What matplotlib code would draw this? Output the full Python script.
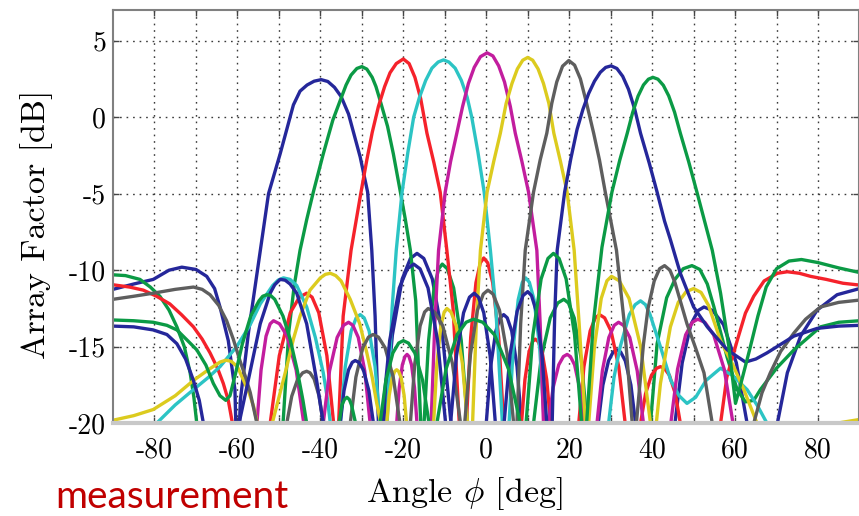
import numpy as np
import matplotlib
matplotlib.use("Agg")
import matplotlib.pyplot as plt


BEAM_M40 = [
    (-90, -11.25), (-85, -10.9), (-80.3, -10.6), (-76.5, -10.0), (-73.4, -9.8),
    (-70, -9.95), (-67.4, -10.4), (-65.5, -11.2), (-64.2, -12.4), (-62.2, -14.6),
    (-60.6, -17.8), (-60.0, -24), (-59.3, -18.5), (-57.3, -14), (-54.1, -8.0),
    (-52.5, -5.0), (-49.7, -2.4), (-48.1, -0.8), (-46.5, 0.8), (-44.9, 1.7),
    (-43.2, 2.1), (-41.5, 2.35), (-39.8, 2.45), (-38.2, 2.33), (-36.6, 1.95),
    (-35.0, 1.35), (-33.2, 0.2), (-31.8, -1.2), (-30.4, -2.6), (-28.6, -4.9),
    (-27.6, -8.7), (-26.8, -13), (-26.0, -20), (-25.4, -27),
    (-24.6, -20), (-22.63, -14.23), (-20.26, -10.57), (-18.28, -9.23), (-16.7, -8.9),
    (-15.06, -9.23), (-13.01, -10.57), (-10.55, -14.23), (-8.5, -20), (-7.8, -27),
    (-4, -30), (-0.7, -27),
    (0, -20), (1.05, -16.31), (2.31, -13.97), (3.36, -13.11), (4.2, -12.9),
    (5.06, -13.11), (6.14, -13.97), (7.43, -16.31), (8.5, -20), (9.2, -27),
    (18, -30), (26.3, -27),
    (27, -20), (28.13, -17.5), (29.48, -15.92), (30.6, -15.34), (31.5, -15.2),
    (32.4, -15.34), (33.53, -15.92), (34.88, -17.5), (36, -20), (36.7, -27),
    (41, -30), (44.8, -27),
    (45.5, -20), (47.25, -16.05), (49.35, -13.54), (51.1, -12.63), (52.5, -12.4),
    (54.58, -12.63), (57.18, -13.54), (60.3, -16.05), (62.9, -20), (64, -28),
    (69.3, -28), (70.2, -20), (72.6, -16.7), (75.8, -14.3), (79.8, -12.6),
    (84.6, -11.6), (90, -11.2),
]

BEAM_M30 = [
    (-90, -10.3), (-87, -10.35), (-83.5, -10.6), (-81, -11.1), (-78.7, -11.7),
    (-76.5, -12.6), (-74.6, -13.7), (-72.8, -15.0), (-71.4, -16.7), (-70.5, -18.3),
    (-69.8, -20), (-69.2, -27), (-60, -30), (-49.6, -27), (-49.0, -20),
    (-47.6, -14), (-46.3, -11), (-44.9, -8.7), (-43.3, -6.7), (-41.7, -4.9),
    (-39.3, -2.4), (-37, -0.2), (-35.2, 1.1), (-33.8, 2.1), (-32.6, 2.75),
    (-31.2, 3.18), (-30.0, 3.3), (-28.8, 3.14), (-27.5, 2.6), (-26.6, 2.0),
    (-25.6, 1.1), (-23.8, -0.6), (-22.4, -2.4), (-20.7, -4.9), (-19.5, -6.7),
    (-18.3, -8.7), (-17, -12), (-15.8, -20), (-15.4, -27),
    (-15.0, -20), (-13.9, -14.59), (-12.58, -11.16), (-11.48, -9.91), (-10.6, -9.6),
    (-9.38, -9.91), (-7.86, -11.16), (-6.03, -14.59), (-4.5, -20), (-3.8, -27),
    (3.5, -30), (10.7, -27),
    (11.4, -20), (13.23, -15.79), (15.42, -13.12), (17.24, -12.14), (18.7, -11.9),
    (19.82, -12.14), (21.22, -13.12), (22.9, -15.79), (24.3, -20), (25, -27),
    (32, -30), (38.8, -27),
    (39.6, -20), (41.2, -14.8), (43.5, -11.8), (45.5, -10.6), (47.5, -9.9),
    (49.6, -9.7), (51.5, -9.95), (53.3, -10.9), (54.9, -12.4), (58.1, -15.7),
    (60.5, -17.8), (62.5, -18.6), (64.5, -18.5), (66.1, -17.8), (70, -16.4),
    (74.2, -15.2), (80.6, -13.7), (85, -13.4), (90, -13.3),
]

BEAM_M20 = [
    (-90, -10.95), (-86, -11.1), (-82.7, -11.3), (-79.5, -11.7), (-76.3, -12.2),
    (-73.5, -12.9), (-70.6, -13.7), (-68.5, -14.5), (-66.6, -15.4), (-64.8, -16.4),
    (-63.4, -17.4), (-62.2, -18.5), (-61.2, -20), (-60.6, -27), (-56.5, -30),
    (-52.8, -27),
    (-52.1, -20), (-49.9, -15.58), (-47.26, -12.78), (-45.06, -11.76), (-43.3, -11.5),
    (-42.0, -11.76), (-40.38, -12.78), (-38.43, -15.58), (-36.8, -20), (-36.2, -27),
    (-35.6, -20), (-34.5, -13), (-32.6, -8.7), (-30.2, -4.9), (-28.8, -2.8),
    (-27.5, -1.0), (-26, 0.7), (-24.5, 2.0), (-23.2, 2.9), (-21.7, 3.5),
    (-20, 3.8), (-18.6, 3.5), (-17.2, 2.6), (-15.8, 1.2), (-14.3, -1.05),
    (-12.6, -3.0), (-11.1, -4.9), (-9.5, -8.7), (-8.0, -12.5), (-6.5, -20),
    (-5.6, -27),
    (-4.8, -20), (-3.75, -14.38), (-2.49, -10.82), (-1.44, -9.52), (-0.6, -9.2),
    (0.36, -9.52), (1.56, -10.82), (3.0, -14.38), (4.2, -20), (4.8, -27),
    (7.8, -27),
    (8.5, -20), (9.33, -17.14), (10.32, -15.33), (11.14, -14.67), (11.8, -14.5),
    (12.54, -14.67), (13.47, -15.33), (14.58, -17.14), (15.5, -20), (16.2, -27),
    (19, -30), (21.6, -27),
    (22.3, -20), (23.55, -16.31), (25.05, -13.97), (26.3, -13.11), (27.3, -12.9),
    (28.54, -13.11), (30.09, -13.97), (31.95, -16.31), (33.5, -20), (35.3, -28),
    (36.5, -27),
    (37.2, -20), (38.4, -18.08), (39.84, -16.86), (41.04, -16.41), (42.0, -16.3),
    (42.96, -16.41), (44.16, -16.86), (45.6, -18.08), (46.8, -20), (47.5, -27),
    (52, -30), (55.7, -27),
    (56.5, -20), (58, -17), (60.5, -14.6), (62.5, -12.8), (64.5, -11.7),
    (67, -10.7), (70.2, -10.2), (72.6, -10.1), (75.5, -10.2), (78.2, -10.4),
    (82, -10.6), (86, -10.85), (90, -10.97),
]

BEAM_M10 = [
    (-82, -23), (-79.5, -20), (-75, -18.8), (-70.6, -17.8), (-67, -17.0),
    (-64.2, -16.3), (-60.2, -15.0), (-57, -13.6), (-54.5, -12.2), (-51.5, -11.0),
    (-50.2, -10.65), (-48.9, -10.5), (-47.3, -10.6), (-45.7, -11.0), (-43.3, -12.4),
    (-41.2, -14.4), (-39.3, -16.7), (-38.3, -18.4), (-37.6, -20), (-36.4, -27),
    (-35.2, -20), (-34.0, -16.31), (-32.56, -13.97), (-31.36, -13.11), (-30.4, -12.9),
    (-29.44, -13.11), (-28.24, -13.97), (-26.8, -16.31), (-25.6, -20), (-24.8, -27),
    (-23.9, -20), (-22.7, -12.5), (-21.7, -8.7), (-20.3, -4.9), (-18.9, -2.3),
    (-17.5, 0.0), (-16.1, 1.3), (-14.6, 2.4), (-13.1, 3.2), (-11.6, 3.6),
    (-10.3, 3.74), (-9.0, 3.6), (-7.5, 3.2), (-6.0, 2.4), (-4.6, 1.3),
    (-3.5, 0.0), (-2.0, -2.3), (-0.5, -4.9), (1.0, -8.7), (2.3, -12.5),
    (3.9, -20), (4.6, -27),
    (5.5, -20), (6.5, -15.06), (7.7, -11.93), (8.7, -10.79), (9.5, -10.5),
    (10.4, -10.79), (11.53, -11.93), (12.88, -15.06), (14.0, -20), (14.8, -27),
    (22, -30), (28.8, -27),
    (29.5, -20), (30.8, -17), (32.3, -15.0), (34.5, -12.9), (35.9, -12.25),
    (37.2, -12.0), (38.4, -12.25), (39.5, -12.9), (42, -15.0), (44.5, -17.2),
    (46.5, -18.2), (48.4, -18.7), (50.5, -18.3), (53, -17.2), (56.5, -16.4),
    (59.5, -16.9), (62.9, -17.8), (65.5, -18.9), (67.7, -20), (68.5, -27),
    (72, -30),
]

BEAM_0 = [
    (-60, -30), (-56.0, -27),
    (-55.3, -20), (-54.3, -16.52), (-53.1, -14.31), (-52.1, -13.5), (-51.3, -13.3),
    (-49.84, -13.5), (-48.02, -14.31), (-45.83, -16.52), (-44.0, -20), (-43.3, -27),
    (-40.0, -27),
    (-39.3, -20), (-37.78, -16.57), (-35.95, -14.39), (-34.42, -13.6), (-33.2, -13.4),
    (-32.16, -13.6), (-30.86, -14.39), (-29.3, -16.57), (-28.0, -20), (-27.3, -27),
    (-22.3, -27),
    (-21.6, -20), (-20.98, -17.66), (-20.23, -16.18), (-19.6, -15.64), (-19.1, -15.5),
    (-18.62, -15.64), (-18.02, -16.18), (-17.3, -17.66), (-16.7, -20), (-16.0, -27),
    (-13.9, -27),
    (-13.3, -20), (-12.4, -13.5), (-11.5, -8.7), (-9.9, -4.9), (-8.6, -2.9),
    (-7.1, -1.05), (-5.7, 0.7), (-4.3, 2.2), (-2.9, 3.25), (-1.4, 3.95),
    (0.2, 4.2), (1.6, 4.0), (3.0, 3.35), (4.4, 2.3), (5.8, 0.7),
    (7.0, -1.05), (8.6, -2.9), (10.2, -4.9), (12.2, -8.7), (13.0, -13.5),
    (13.8, -20), (14.3, -27),
    (15.0, -20), (16.13, -17.66), (17.48, -16.18), (18.6, -15.64), (19.5, -15.5),
    (20.3, -15.64), (21.3, -16.18), (22.5, -17.66), (23.5, -20), (24.2, -27),
    (26.0, -27),
    (26.7, -20), (28.0, -16.57), (29.56, -14.39), (30.86, -13.6), (31.9, -13.4),
    (33.1, -13.6), (34.6, -14.39), (36.4, -16.57), (37.9, -20), (38.6, -27),
    (43.8, -27),
    (44.5, -20), (46.13, -16.46), (48.08, -14.22), (49.7, -13.4), (51.0, -13.2),
    (52.7, -13.4), (54.83, -14.22), (57.38, -16.46), (59.5, -20), (60.2, -27),
    (62, -30),
]

BEAM_P10 = [
    (-90, -19.8), (-85, -19.5), (-80.3, -19.1), (-75, -18.2), (-70.6, -17.2),
    (-67, -16.5), (-64.2, -16.0), (-62.8, -15.88), (-61.5, -15.95), (-60, -16.3),
    (-58.5, -17.2), (-57.2, -18.0), (-56.1, -18.9), (-55.2, -20), (-54.2, -27),
    (-52.4, -27),
    (-51.6, -20), (-49.7, -18.0), (-48.1, -16.3), (-46.5, -14.5), (-44.9, -13.0),
    (-42.5, -11.3), (-40, -10.5), (-38.8, -10.27), (-37.6, -10.2), (-36.3, -10.35),
    (-35, -10.7), (-32.8, -11.9), (-30.5, -13.5), (-28.8, -15.4), (-27.5, -17.0),
    (-26.4, -18.7), (-25.4, -20), (-24.7, -27),
    (-24.0, -20), (-23.4, -18.18), (-22.68, -17.03), (-22.08, -16.61), (-21.6, -16.5),
    (-21.12, -16.61), (-20.52, -17.03), (-19.8, -18.18), (-19.2, -20), (-18.5, -27),
    (-16, -30), (-13.4, -27),
    (-12.7, -20), (-11.9, -16.1), (-10.94, -13.63), (-10.14, -12.73), (-9.5, -12.5),
    (-8.5, -12.73), (-7.25, -13.63), (-5.75, -16.1), (-4.5, -20), (-3.9, -27),
    (-3.3, -20), (-2.4, -13.5), (-1.4, -8.7), (0.2, -4.9), (1.8, -2.9),
    (3.4, -1.05), (4.8, 0.9), (6.2, 2.2), (7.5, 3.15), (8.8, 3.72),
    (10, 3.9), (11.2, 3.72), (12.5, 3.15), (13.8, 2.2), (15.1, 0.9),
    (16.3, -1.05), (17.9, -2.9), (19.5, -4.9), (21.2, -8.7), (22.4, -13.5),
    (23.9, -20), (24.3, -26),
    (24.7, -20), (26.08, -15.01), (27.73, -11.84), (29.1, -10.69), (30.2, -10.4),
    (32.08, -10.69), (34.43, -11.84), (37.25, -15.01), (39.6, -20), (40.3, -27),
    (41.0, -20), (42.0, -17.4), (44.4, -13.7), (46.3, -12.1), (48.2, -11.4),
    (50.0, -11.2), (51.8, -11.45), (53.6, -12.3), (56.5, -14.6), (59.5, -16.2),
    (62.1, -17.8), (65.3, -20), (66, -27), (75, -30),
    (84.2, -21), (85.5, -19.95), (90, -19.75),
]

BEAM_P20 = [
    (-90, -11.9), (-85, -11.7), (-80.3, -11.5), (-75, -11.25), (-70.6, -11.1),
    (-68.5, -11.25), (-66.6, -11.6), (-64.5, -12.3), (-62.6, -13.3), (-61, -14.5),
    (-59.4, -15.9), (-58, -17.0), (-56.9, -18.0), (-55.3, -20), (-54.5, -27),
    (-49, -27),
    (-48.1, -20), (-46.9, -18.23), (-45.46, -17.11), (-44.26, -16.7), (-43.3, -16.6),
    (-42.5, -16.7), (-41.5, -17.11), (-40.3, -18.23), (-39.3, -20), (-38.5, -27),
    (-33.5, -27),
    (-32.8, -20), (-31.43, -16.98), (-29.78, -15.07), (-28.4, -14.37), (-27.3, -14.2),
    (-26.0, -14.37), (-24.38, -15.07), (-22.43, -16.98), (-20.8, -20), (-19.6, -27),
    (-18.3, -20), (-17.23, -16.1), (-15.94, -13.63), (-14.86, -12.73), (-14.0, -12.5),
    (-12.44, -12.73), (-10.49, -13.63), (-8.15, -16.1), (-6.2, -20), (-5.7, -27),
    (-5.2, -20), (-3.8, -15.48), (-2.12, -12.61), (-0.72, -11.56), (0.4, -11.3),
    (1.64, -11.56), (3.19, -12.61), (5.05, -15.48), (6.6, -20), (7.0, -27),
    (7.4, -20), (8.3, -13.5), (9.4, -8.7), (11.4, -4.9), (13.0, -2.8),
    (14.6, -1.05), (15.8, 0.9), (17.0, 2.3), (18.4, 3.33), (19.9, 3.7),
    (21.3, 3.4), (22.7, 2.5), (24.2, 0.9), (25.9, -1.05), (27.3, -2.8),
    (28.7, -4.9), (31.4, -8.7), (33.3, -13.5), (35.2, -20), (35.6, -26),
    (36.2, -20), (37.9, -14.85), (39.0, -12.5), (40.5, -10.7), (41.8, -9.9),
    (43.0, -9.7), (44.3, -10.0), (45.5, -10.8), (48.4, -13.5), (50.5, -15.1),
    (52.5, -16.7), (54.5, -20), (55.3, -27), (60, -30), (63.8, -27),
    (64.5, -20), (66.5, -18.0), (68.5, -16.7), (71, -15.3), (74.2, -14.1),
    (77, -13.2), (80.6, -12.4), (85, -12.1), (90, -11.95),
]

BEAM_P30 = [
    (-90, -13.65), (-85, -13.7), (-80.3, -13.9), (-77, -14.2), (-74.6, -14.8),
    (-72.5, -15.8), (-70.6, -17.2), (-69.2, -18.5), (-68.2, -20), (-67.5, -27),
    (-64, -28), (-60.3, -27),
    (-59.6, -20), (-57, -16.7), (-54.5, -13.5), (-52.1, -11.5), (-51.0, -10.95),
    (-49.7, -10.6), (-48.5, -10.65), (-47.3, -10.9), (-45.7, -11.5), (-43.3, -13.5),
    (-40.9, -17.2), (-39.3, -20), (-38.6, -27), (-35.9, -27),
    (-35.2, -20), (-34.3, -17.87), (-33.22, -16.52), (-32.32, -16.02), (-31.6, -15.9),
    (-30.72, -16.02), (-29.62, -16.52), (-28.3, -17.87), (-27.2, -20), (-26.2, -27),
    (-25.2, -20), (-23.28, -14.59), (-20.97, -11.16), (-19.04, -9.91), (-17.5, -9.6),
    (-15.96, -9.91), (-14.04, -11.16), (-11.73, -14.59), (-9.8, -20), (-9.2, -27),
    (-8.6, -20), (-7.18, -15.58), (-5.47, -12.78), (-4.04, -11.76), (-2.9, -11.5),
    (-1.88, -11.76), (-0.6, -12.78), (0.93, -15.58), (2.2, -20), (2.8, -27),
    (3.7, -27),
    (4.3, -20), (5.73, -15.53), (7.44, -12.69), (8.86, -11.66), (10.0, -11.4),
    (10.92, -11.66), (12.07, -12.69), (13.45, -15.53), (14.6, -20), (15.3, -26),
    (15.9, -20), (16.5, -13), (17.1, -8.7), (18.9, -4.9), (20.4, -2.7),
    (21.9, -0.8), (23.3, 0.5), (24.7, 1.55), (26.1, 2.35), (27.5, 2.93),
    (28.8, 3.25), (30.1, 3.35), (31.5, 3.18), (32.9, 2.67), (34.3, 1.82),
    (35.8, 0.52), (37.2, -1.05), (39.3, -3.0), (41.2, -4.9), (43, -6.8),
    (44.4, -8.0), (46.8, -10.2), (50.0, -12.4), (53.3, -13.7), (58.1, -15.2),
    (62.5, -16.0), (65, -15.8), (67.7, -15.4), (74.2, -14.3), (79.8, -13.8),
    (85, -13.65), (90, -13.6),
]

BEAM_P40 = [
    (-90, -13.25), (-85, -13.3), (-80.3, -13.4), (-77, -13.6), (-74.6, -13.9),
    (-72, -14.6), (-69.8, -15.2), (-67.6, -16.2), (-65.8, -17.4), (-64.2, -18.2),
    (-62.8, -18.5), (-61.8, -18.2), (-60.5, -16.8), (-58.8, -14.8), (-56.8, -13.0),
    (-54.8, -12.0), (-53.9, -11.7), (-52.9, -11.6), (-52.0, -11.65), (-51, -11.9),
    (-49, -13.0), (-47.3, -14.5), (-45.6, -16.5), (-44.2, -18.5), (-43.3, -20),
    (-42.7, -27), (-36.2, -26),
    (-35.5, -20), (-34.8, -18.8), (-34.2, -18.45), (-33.6, -18.3), (-33.0, -18.45),
    (-32.5, -18.8), (-31.5, -20), (-30.8, -26), (-26.3, -27),
    (-25.6, -20), (-24.2, -17.19), (-22.52, -15.41), (-21.12, -14.76), (-20.0, -14.6),
    (-18.76, -14.76), (-17.21, -15.41), (-15.35, -17.19), (-13.8, -20), (-12.85, -27),
    (-11.9, -20), (-9.7, -16.46), (-7.06, -14.22), (-4.86, -13.4), (-3.1, -13.2),
    (-0.84, -13.4), (1.99, -14.22), (5.38, -16.46), (8.2, -20), (8.9, -27),
    (9.6, -20), (11.25, -14.23), (13.23, -10.57), (14.88, -9.23), (16.2, -8.9),
    (17.56, -9.23), (19.26, -10.57), (21.3, -14.23), (23.0, -20), (23.6, -27),
    (24.2, -20), (25.8, -13.5), (27.9, -8.5), (30.3, -4.9), (32.2, -2.8),
    (34.0, -1.05), (35.3, 0.3), (36.6, 1.37), (37.9, 2.1), (39.1, 2.48),
    (40.2, 2.6), (41.4, 2.48), (42.7, 2.08), (44.0, 1.39), (45.4, 0.33),
    (46.8, -1.05), (48.8, -2.9), (50.8, -4.9), (54.5, -8.7), (56.5, -11.5),
    (58.5, -15), (60.1, -18.7),
    (61.5, -17.3), (63.5, -15.2), (65.5, -13.0), (67.5, -11.1), (70, -9.9),
    (73, -9.4), (76, -9.3), (80, -9.5), (85, -9.85), (90, -10.15),
]

BEAMS = [BEAM_M40, BEAM_M30, BEAM_M20, BEAM_M10, BEAM_0,
         BEAM_P10, BEAM_P20, BEAM_P30, BEAM_P40]

BEAM_COLORS = ["#25279a", "#0b9a45", "#f5222b", "#2cc4c4", "#c21d9e",
               "#dccb1e", "#5e5e5e", "#25279a", "#0b9a45"]

X_TICKS = [-80, -70, -60, -50, -40, -30, -20, -10, 0, 10, 20, 30, 40, 50, 60, 70, 80]
X_TICK_LABELS = ["-80", "", "-60", "", "-40", "", "-20", "", "0", "",
                 "20", "", "40", "", "60", "", "80"]
Y_TICKS = [5, 0, -5, -10, -15, -20]
Y_TICK_LABELS = ["5", "0", "-5", "-10", "-15", "-20"]


def setup_axes(fig):

    ax = fig.add_axes([113 / 859, 1 - 423.3 / 516, 746.5 / 859, 413.3 / 516])

    ax.set_xlim(-90, 90)
    ax.set_ylim(-20, 7)

    ax.set_xticks(X_TICKS)
    ax.set_xticklabels(X_TICK_LABELS, fontfamily="cmr10", fontsize=20)
    ax.set_yticks(Y_TICKS)
    ax.set_yticklabels(Y_TICK_LABELS, fontfamily="cmr10", fontsize=20)

    ax.tick_params(axis="both", direction="in", length=4, width=1,
                   color="#444444", top=True, right=True)
    ax.tick_params(axis="x", pad=10)
    ax.tick_params(axis="y", pad=5)

    ax.grid(True, linestyle=(0, (1.2, 3.5)), color="#3a3a3a", linewidth=1.0)

    for side in ["left", "top", "right"]:
        ax.spines[side].set_color("#808080")
        ax.spines[side].set_linewidth(1.5)
    ax.spines["bottom"].set_color("#c8c8c8")
    ax.spines["bottom"].set_linewidth(3)

    return ax


def plot_beams(ax):

    for beam, color in zip(BEAMS, BEAM_COLORS):
        data = np.array(beam)
        ax.plot(data[:, 0], data[:, 1], color=color, linewidth=2.4,
                solid_joinstyle="round", solid_capstyle="round")


def add_labels(fig):

    fig.text(464 / 859, 1 - 494 / 516, r"Angle $\phi$ [deg]",
             fontfamily="cmr10", fontsize=24.5, ha="center", va="center")

    fig.text(37 / 859, 1 - 224 / 516, "Array Factor [dB]",
             fontfamily="cmr10", fontsize=24.5, ha="center", va="center",
             rotation=90)

    fig.text(55 / 859, 1 / 516, "measurement",
             fontfamily="Lato", fontsize=28, color="#c00000",
             ha="left", va="bottom")


def main():

    plt.rcParams["mathtext.fontset"] = "cm"
    plt.rcParams["axes.unicode_minus"] = False

    fig = plt.figure(figsize=(8.59, 5.16), dpi=100)

    ax = setup_axes(fig)

    plot_beams(ax)

    add_labels(fig)

    fig.savefig("out.png", dpi=100)

    plt.close(fig)


if __name__ == "__main__":
    main()
